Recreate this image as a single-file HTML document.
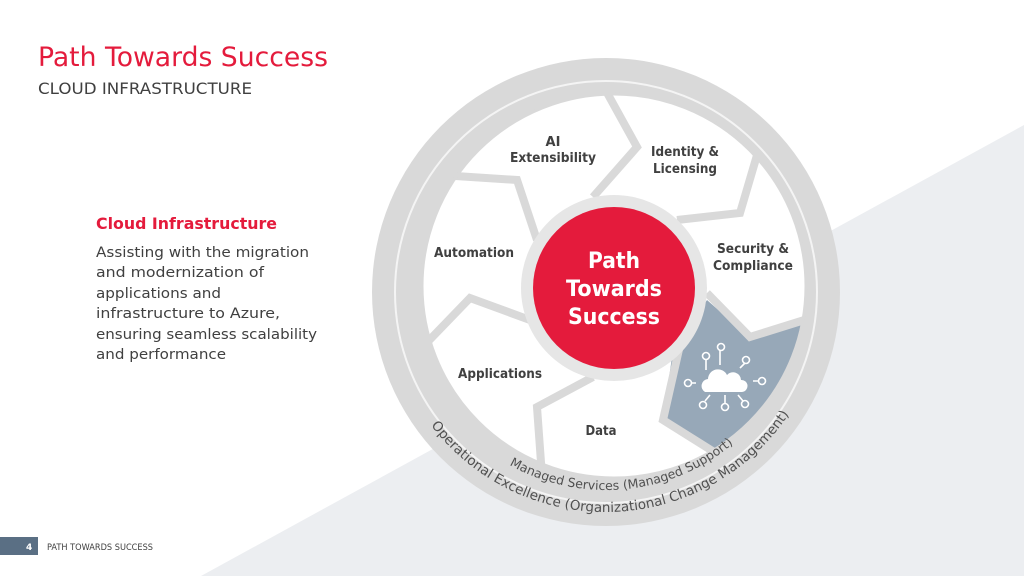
<!DOCTYPE html>
<html><head><meta charset="utf-8"><style>
body{margin:0;width:1024px;height:576px;overflow:hidden;background:#fff;font-family:"Liberation Sans",sans-serif;}
svg{position:absolute;left:0;top:0}
</style></head><body>
<svg width="1024" height="576" viewBox="0 0 1024 576" xmlns="http://www.w3.org/2000/svg">
<defs>
<clipPath id="inner"><circle cx="614" cy="286" r="192"/></clipPath>
<path id="a1" d="M386,292 A220,220 0 0 0 826,292"/>
<path id="a2" d="M408,292 A198,198 0 0 0 804,292"/>
</defs>
<polygon points="1024,125 201,576 1024,576" fill="#eceef1"/>
<circle cx="606" cy="292" r="234" fill="#d9d9d9"/>
<circle cx="606" cy="292" r="211" fill="none" stroke="#f4f4f4" stroke-width="2"/>
<circle cx="614" cy="286" r="192" fill="#fff"/>
<g clip-path="url(#inner)">
<polygon points="707,300 750,338 830,312 830,480 720,453 663,420 673,350" fill="#97a8b8"/>
<g fill="none" stroke="#d9d9d9" stroke-width="8" stroke-linejoin="miter">
<polyline points="593,197 637,147 600,80"/>
<polyline points="677,220 740,213 760,145"/>
<polyline points="707,293 750,337 830,312"/>
<polyline points="680,345 663,420 730,462"/>
<polyline points="593,377 537,407 543,490"/>
<polyline points="530,320 470,298 415,355"/>
<polyline points="537,240 517,180 440,175"/>
</g>
</g>
<circle cx="614" cy="286" r="192" fill="none" stroke="#d9d9d9" stroke-width="3"/>
<circle cx="614" cy="288" r="93" fill="#e6e6e6"/>
<circle cx="614" cy="288" r="81" fill="#e41b3c"/>
<g font-family="'DejaVu Sans',sans-serif" font-weight="bold" fill="#fff" font-size="22" text-anchor="middle">
<text x="614" y="268" textLength="52" lengthAdjust="spacingAndGlyphs">Path</text>
<text x="614" y="296" textLength="96" lengthAdjust="spacingAndGlyphs">Towards</text>
<text x="614" y="324" textLength="92" lengthAdjust="spacingAndGlyphs">Success</text>
</g>
<g font-family="'DejaVu Sans',sans-serif" font-weight="bold" fill="#404040" font-size="13" text-anchor="middle">
<text x="553" y="146">AI</text>
<text x="553" y="162" textLength="86" lengthAdjust="spacingAndGlyphs">Extensibility</text>
<text x="685" y="156" textLength="68" lengthAdjust="spacingAndGlyphs">Identity &amp;</text>
<text x="685" y="173" textLength="64" lengthAdjust="spacingAndGlyphs">Licensing</text>
<text x="753" y="253" textLength="72" lengthAdjust="spacingAndGlyphs">Security &amp;</text>
<text x="753" y="270" textLength="80" lengthAdjust="spacingAndGlyphs">Compliance</text>
<text x="474" y="257" textLength="80" lengthAdjust="spacingAndGlyphs">Automation</text>
<text x="500" y="378" textLength="84" lengthAdjust="spacingAndGlyphs">Applications</text>
<text x="601" y="435" textLength="31" lengthAdjust="spacingAndGlyphs">Data</text>
</g>
<g stroke="#fff" stroke-width="1.6" fill="none">
<path d="M706,370 v-10 M720,365 v-14 M740,368 l5,-5 M696,383 h-5 M753,381 h6 M710,395 l-5,6 M725,395 v8 M738,395 l5,6"/>
<circle cx="706" cy="356" r="3.5"/><circle cx="721" cy="347" r="3.5"/><circle cx="746" cy="360" r="3.5"/>
<circle cx="688" cy="383" r="3.5"/><circle cx="762" cy="381" r="3.5"/>
<circle cx="703" cy="405" r="3.5"/><circle cx="725" cy="407" r="3.5"/><circle cx="745" cy="404" r="3.5"/>
</g>
<path d="M705,392 a7,7 0 0 1 3,-13 a10,10 0 0 1 19,-4 a8,8 0 0 1 14,5 a6,6 0 0 1 1,12 z" fill="#fff"/>
<text font-family="'DejaVu Sans',sans-serif" font-size="13.5" fill="#505050"><textPath href="#a1" startOffset="51%" text-anchor="middle">Operational Excellence (Organizational Change Management)</textPath></text>
<text font-family="'DejaVu Sans',sans-serif" font-size="12.5" fill="#505050"><textPath href="#a2" startOffset="53%" text-anchor="middle">Managed Services (Managed Support)</textPath></text>
<g font-family="'DejaVu Sans',sans-serif">
<text x="38" y="66" font-size="27" fill="#e41b3c" textLength="290" lengthAdjust="spacingAndGlyphs">Path Towards Success</text>
<text x="38" y="94" font-size="16" fill="#404040" textLength="214" lengthAdjust="spacingAndGlyphs">CLOUD INFRASTRUCTURE</text>
<text x="96" y="229" font-size="16" font-weight="bold" fill="#e41b3c" textLength="181" lengthAdjust="spacingAndGlyphs">Cloud Infrastructure</text>
<g font-size="14" fill="#404040">
<text x="96" y="257" textLength="213" lengthAdjust="spacingAndGlyphs">Assisting with the migration</text>
<text x="96" y="277" textLength="168" lengthAdjust="spacingAndGlyphs">and modernization of</text>
<text x="96" y="298" textLength="125" lengthAdjust="spacingAndGlyphs">applications and</text>
<text x="96" y="318" textLength="184" lengthAdjust="spacingAndGlyphs">infrastructure to Azure,</text>
<text x="96" y="339" textLength="221" lengthAdjust="spacingAndGlyphs">ensuring seamless scalability</text>
<text x="96" y="359" textLength="130" lengthAdjust="spacingAndGlyphs">and performance</text>
</g>
<rect x="0" y="537" width="38" height="18" fill="#5a6f84"/>
<text x="26" y="550" font-size="9" font-weight="bold" fill="#fff">4</text>
<text x="47" y="550" font-size="9" fill="#404040" textLength="106" lengthAdjust="spacingAndGlyphs">PATH TOWARDS SUCCESS</text>
</g>
</svg>
</body></html>
